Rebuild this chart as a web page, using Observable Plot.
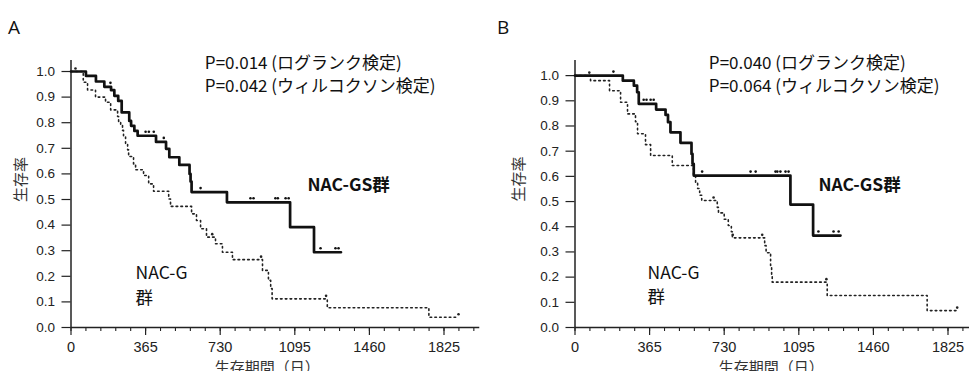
<!DOCTYPE html>
<html><head><meta charset="utf-8">
<script src="https://cdn.jsdelivr.net/npm/d3@7"></script>
<script src="https://cdn.jsdelivr.net/npm/@observablehq/plot@0.6"></script>
<style>
html,body{margin:0;padding:0;background:#fff;}
#root{position:relative;width:969px;height:371px;overflow:hidden;background:#fff;}
.panel{position:absolute;top:0;height:371px;}
.panel svg{max-width:none !important;display:block;}
.letter{position:absolute;top:14px;font:19px "Open Sans","Noto Sans",sans-serif;color:#111;}
</style></head><body>
<div id="root"></div>
<script>
// ---- tick labels ----
const xTickLabels = [0, 365, 730, 1095, 1460, 1825];
const yTickLabels = [0.0, 0.1, 0.2, 0.3, 0.4, 0.5, 0.6, 0.7, 0.8, 0.9, 1.0];
const panelLetters = ["A", "B"];
const groupNames = ["NAC-GS群", "NAC-G\n群"];
const xTitle = "生存期間（日）";
const yTitle = "生存率";
const pTextA = ["P=0.014 (ログランク検定)", "P=0.042 (ウィルコクソン検定)"];
const pTextB = ["P=0.040 (ログランク検定)", "P=0.064 (ウィルコクソン検定)"];

// ---- Panel A: NAC-GS (solid) ----
const aGsDays = [0, 73, 122, 163, 196, 212, 231, 248, 285, 294, 310, 326, 416, 465, 481, 530, 580, 585, 590, 763, 1072, 1189, 1321];
const aGsSurv = [1.0, 0.983, 0.961, 0.94, 0.927, 0.905, 0.885, 0.84, 0.807, 0.788, 0.768, 0.749, 0.725, 0.698, 0.665, 0.635, 0.60, 0.57, 0.529, 0.489, 0.392, 0.294, 0.294];
const aGsCensor = [193, 365, 381, 405, 454, 634, 878, 893, 1000, 1012, 1050, 1065, 1221, 1294, 1309];
// ---- Panel A: NAC-G (dotted) ----
const aGDays = [0, 60, 81, 120, 169, 194, 228, 233, 243, 252, 257, 267, 277, 282, 306, 316, 355, 380, 404, 478, 487, 590, 614, 634, 663, 707, 741, 790, 937, 966, 977, 984, 1254, 1751, 1896];
const aGSurv = [1.0, 0.958, 0.928, 0.90, 0.88, 0.85, 0.824, 0.805, 0.79, 0.77, 0.746, 0.717, 0.694, 0.668, 0.639, 0.616, 0.594, 0.561, 0.532, 0.502, 0.473, 0.444, 0.418, 0.386, 0.353, 0.327, 0.294, 0.265, 0.223, 0.184, 0.152, 0.112, 0.077, 0.04, 0.04];
const aGCensor = [22, 691, 930, 1248, 1896];

// ---- Panel B: NAC-GS (solid) ----
const bGsDays = [0, 234, 288, 304, 312, 397, 443, 455, 467, 516, 570, 575, 581, 1054, 1165, 1299];
const bGsSurv = [1.0, 0.98, 0.96, 0.934, 0.888, 0.865, 0.844, 0.815, 0.775, 0.733, 0.689, 0.65, 0.603, 0.488, 0.365, 0.365];
const bGsCensor = [188, 336, 350, 370, 385, 622, 859, 884, 981, 990, 1005, 1030, 1045, 1191, 1265, 1290];
// ---- Panel B: NAC-G (dotted) ----
const bGDays = [0, 76, 169, 223, 257, 296, 306, 345, 370, 476, 580, 590, 600, 610, 620, 696, 702, 730, 750, 765, 770, 928, 935, 957, 962, 965, 1234, 1723, 1870];
const bGSurv = [1.0, 0.98, 0.94, 0.894, 0.848, 0.817, 0.769, 0.726, 0.683, 0.643, 0.603, 0.577, 0.552, 0.525, 0.504, 0.477, 0.455, 0.43, 0.405, 0.38, 0.356, 0.325, 0.297, 0.246, 0.206, 0.18, 0.127, 0.067, 0.067];
const bGCensor = [70, 678, 772, 916, 1230, 1870];

const pxPerDay = 373 / 1825;
const xMax = 2000;
const minorTicks = d3.range(0, xMax, 73);
const cjk = '"Noto Sans CJK JP", "Noto Sans", sans-serif';

function stepAt(days, surv, t) {
  let v = surv[0];
  for (let i = 0; i < days.length; i++) if (days[i] <= t) v = surv[i];
  return v;
}

function panel(cfg) {
  const gs = cfg.gsDays.map((d, i) => ({day: d, surv: cfg.gsSurv[i]}));
  const g = cfg.gDays.map((d, i) => ({day: d, surv: cfg.gSurv[i]}));
  const gsC = cfg.gsCensor.map(t => ({day: t, surv: stepAt(cfg.gsDays, cfg.gsSurv, t)}));
  const gC = cfg.gCensor.map(t => ({day: t, surv: stepAt(cfg.gDays, cfg.gSurv, t)}));
  return Plot.plot({
    width: cfg.width, height: 371,
    marginLeft: cfg.marginLeft,
    marginRight: cfg.width - cfg.marginLeft - xMax * pxPerDay,
    marginTop: 60, marginBottom: 44,
    x: {domain: [0, xMax], label: null},
    y: {domain: [0, cfg.yMax], label: null},
    style: {fontFamily: '"Liberation Sans", Arial, sans-serif', fontSize: "13.5px", color: "#222", background: "#fff", overflow: "visible"},
    marks: [
      Plot.axisY({ticks: yTickLabels, tickFormat: d => d.toFixed(1), tickSize: 9, tickPadding: 7, label: null, strokeWidth: 1.2, fontSize: 13.5}),
      Plot.axisX({ticks: minorTicks, tickFormat: () => "", tickSize: 4, label: null, strokeWidth: 1.1}),
      Plot.axisX({ticks: xTickLabels, tickFormat: d => String(d), tickSize: 8, tickPadding: 6, label: null, strokeWidth: 1.2, fontSize: 14.5}),
      Plot.ruleX([0], {stroke: "#222", strokeWidth: 1.5}),
      Plot.ruleY([0], {stroke: "#222", strokeWidth: 1.5}),
      Plot.line(g, {x: "day", y: "surv", curve: "step-after", stroke: "#222", strokeWidth: 1.6, strokeDasharray: "1.6,3.2"}),
      Plot.dot(gC, {x: "day", y: "surv", r: 1.3, fill: "#222", dy: -3}),
      Plot.line(gs, {x: "day", y: "surv", curve: "step-after", stroke: "#111", strokeWidth: 2.7}),
      Plot.dot(gsC, {x: "day", y: "surv", r: 1.3, fill: "#111", dy: -4}),
      Plot.text([{surv: cfg.yTitleY, t: yTitle}], {y: "surv", text: "t", frameAnchor: "left", dx: cfg.yTitleDx, rotate: -90, fontFamily: cjk, fontSize: 15, fill: "#333"}),
      Plot.text([{day: 960, t: xTitle}], {x: "day", text: "t", frameAnchor: "bottom", lineAnchor: "top", dy: 35, fontFamily: cjk, fontSize: 15, fill: "#333"}),
      Plot.text([{day: 655, t: cfg.pText.join("\n")}], {x: "day", text: "t", frameAnchor: "top", lineAnchor: "top", dy: -7, textAnchor: "start", lineHeight: 1.32, fontFamily: cjk, fontSize: 17, fill: "#111"}),
      Plot.text([{day: cfg.gsLabel[0], surv: cfg.gsLabel[1], t: groupNames[0]}], {x: "day", y: "surv", text: "t", textAnchor: "start", fontFamily: cjk, fontWeight: "bold", fontSize: 17.5, fill: "#111"}),
      Plot.text([{day: cfg.gLabel[0], surv: cfg.gLabel[1], t: groupNames[1]}], {x: "day", y: "surv", text: "t", textAnchor: "start", lineHeight: 1.4, fontFamily: cjk, fontSize: 17.5, fill: "#111"})
    ]
  });
}

const root = document.getElementById("root");
const cfgs = [
  {left: 0, width: 490, marginLeft: 70.5, yMax: 1.043, yTitleDx: -50, yTitleY: 0.49,
   gsDays: aGsDays, gsSurv: aGsSurv, gsCensor: aGsCensor, gDays: aGDays, gSurv: aGSurv, gCensor: aGCensor,
   pText: pTextA, gsLabel: [1157, 0.555], gLabel: [316, 0.172], letterLeft: 8},
  {left: 490, width: 494, marginLeft: 84.5, yMax: 1.06, yTitleDx: -56, yTitleY: 0.50,
   gsDays: bGsDays, gsSurv: bGsSurv, gsCensor: bGsCensor, gDays: bGDays, gSurv: bGSurv, gCensor: bGCensor,
   pText: pTextB, gsLabel: [1191, 0.563], gLabel: [355, 0.175], letterLeft: 497}
];
cfgs.forEach((cfg, i) => {
  const div = document.createElement("div");
  div.className = "panel";
  div.style.left = cfg.left + "px";
  div.style.width = cfg.width + "px";
  div.appendChild(panel(cfg));
  root.appendChild(div);
  const L = document.createElement("div");
  L.className = "letter";
  L.style.left = cfg.letterLeft + "px";
  L.textContent = panelLetters[i];
  root.appendChild(L);
});
</script>
</body></html>
